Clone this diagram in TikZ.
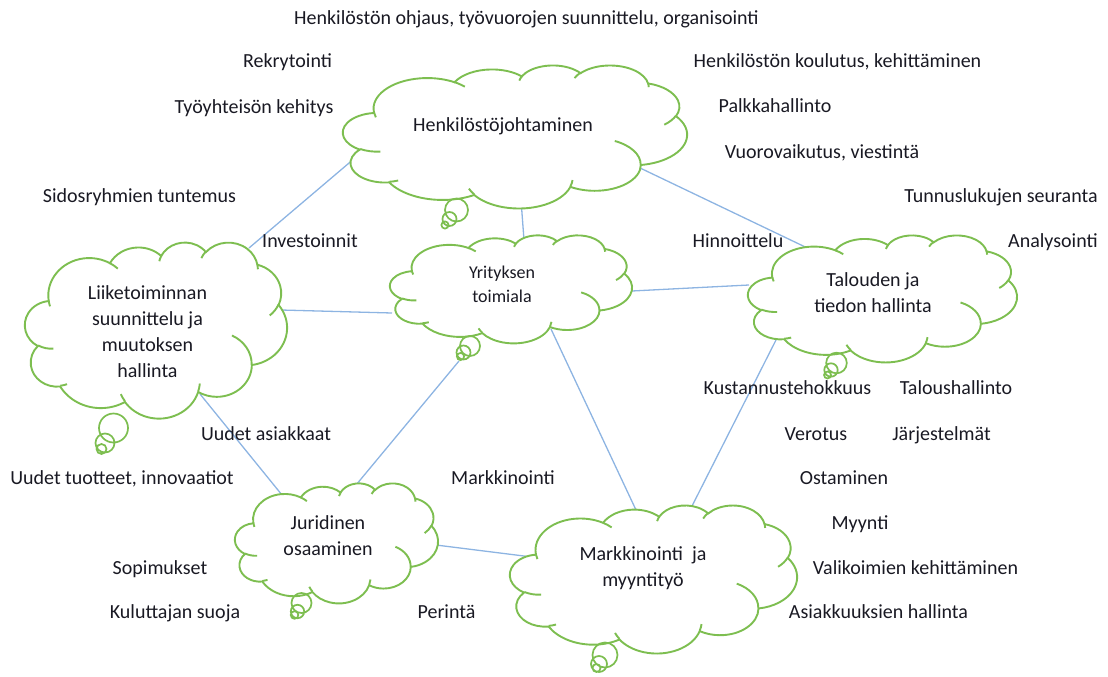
\documentclass[tikz,border=0pt]{standalone}
\usepackage{fontspec}
\setmainfont{Carlito}
\definecolor{cgreen}{RGB}{125,190,80}
\definecolor{lblue}{RGB}{141,180,226}
\definecolor{txt}{RGB}{25,25,35}
\newcommand\ooarc[4]{arc[x radius=#1,y radius=#2,start angle={atan2(sin(#3)/#2,cos(#3)/#1)},delta angle={mod(atan2(sin(#3+#4)/#2,cos(#3+#4)/#1)-atan2(sin(#3)/#2,cos(#3)/#1)+720,360)}]}
\newcommand\wordcloud[4]{%
 \begin{scope}[shift={(#1,#2)},xscale=#3/43.2,yscale=#4/43.2]
  \draw[cloudline,fill=white] (3.900,14.370)
   \ooarc{6.753}{9.190}{-190.4875}{123.7805}
   \ooarc{5.333}{7.267}{-144.1024}{89.9452}
   \ooarc{4.365}{5.945}{-145.8079}{99.7230}
   \ooarc{4.857}{6.595}{-130.9861}{117.2417}
   \ooarc{5.333}{7.273}{-78.7089}{109.0269}
   \ooarc{6.775}{9.220}{-46.2673}{130.2690}
   \ooarc{5.785}{7.867}{0.6250}{114.0333}
   \ooarc{6.752}{9.215}{22.4516}{115.1726}
   \ooarc{7.720}{10.543}{66.2426}{75.7110}
   \ooarc{4.360}{5.918}{-274.9421}{146.7356}
   \ooarc{4.345}{5.945}{-246.8285}{152.5189} -- cycle;
  \draw[cloudline]
   (4.693,26.177) \ooarc{4.345}{5.945}{86.7420}{26.4295}
   (6.928,34.899) \ooarc{4.360}{5.918}{73.6105}{11.4475}
   (16.478,39.090) \ooarc{6.752}{9.215}{137.6242}{14.0811}
   (28.827,34.751) \ooarc{6.752}{9.215}{6.4533}{15.9984}
   (34.129,22.954) \ooarc{5.785}{7.867}{-70.2924}{70.9174}
   (41.798,15.354) \ooarc{5.333}{7.273}{30.3180}{27.7515}
   (38.324,5.426) \ooarc{4.857}{6.595}{-13.7443}{14.8589}
   (29.078,3.952) \ooarc{4.857}{6.595}{-149.1815}{18.1954}
   (22.141,4.720) \ooarc{4.365}{5.945}{-163.4943}{17.6864}
   (14.000,5.192) \ooarc{6.753}{9.190}{-66.7070}{12.3194}
   (4.127,15.789) \ooarc{6.753}{9.190}{157.6544}{11.8582};
 \end{scope}}
\begin{document}
\begin{tikzpicture}[x=1pt,y=-1pt,
  cloudline/.style={draw=cgreen,line width=1.9pt},
  bubble/.style={draw=cgreen,line width=1.7pt},
  conn/.style={draw=lblue,line width=1.3pt},
  lbl/.style={font=\fontsize{20}{24}\selectfont,text=txt,anchor=base,inner sep=0pt},
  ctext/.style={font=\fontsize{20}{26}\selectfont,text=txt,align=center,inner sep=0pt},
  stext/.style={font=\fontsize{18}{23.7}\selectfont,text=txt,align=center,inner sep=0pt}]
\useasboundingbox (0,0) rectangle (1108,677);

% connector end points (on cloud edges)
\coordinate (h1) at (362,152);
\coordinate (l1) at (249,248);
\coordinate (h2) at (638,167);
\coordinate (ta1) at (822,255);
\coordinate (h3) at (521,200);
\coordinate (y1) at (524,240);
\coordinate (y2) at (632,291);
\coordinate (ta2) at (749,285);
\coordinate (l2) at (281,310);
\coordinate (y3) at (392,313);
\coordinate (l3) at (200,394);
\coordinate (j1) at (282,495);
\coordinate (j2) at (356,485);
\coordinate (yb) at (459,361);
\coordinate (y4) at (551,329);
\coordinate (m1) at (636,510);
\coordinate (ta3) at (776,340);
\coordinate (m2) at (690,510);
\coordinate (j3) at (436,545);
\coordinate (m3) at (532,557);

\draw[conn] (h1) -- (l1);
\draw[conn] (h2) -- (ta1);
\draw[conn] (h3) -- (y1);
\draw[conn] (y2) -- (ta2);
\draw[conn] (l2) -- (y3);
\draw[conn] (l3) -- (j1);
\draw[conn] (j2) -- (yb);
\draw[conn] (y4) -- (m1);
\draw[conn] (ta3) -- (m2);
\draw[conn] (j3) -- (m3);

% clouds
\wordcloud{343}{65}{344}{143}
\wordcloud{25}{242}{262}{176}
\wordcloud{390}{235}{242}{108}
\wordcloud{510}{505}{287}{148}
\wordcloud{748}{235}{269}{127}
\wordcloud{235}{483}{203}{120}

% thought bubbles
\draw[bubble] (456.5,210) circle[radius=11.5] (449.5,219) circle[radius=7] (445,225) circle[radius=3.6];
\draw[bubble] (113.5,428) circle[radius=14.5] (105,443) circle[radius=9.5] (101.5,449) circle[radius=5];
\draw[bubble] (470,346) circle[radius=10] (463.5,352.5) circle[radius=7] (460.5,356.5) circle[radius=3.6];
\draw[bubble] (605,655) circle[radius=12.5] (599,664) circle[radius=8] (596.5,668) circle[radius=4];
\draw[bubble] (836.5,363) circle[radius=10.3] (831,370) circle[radius=6.7] (827.5,375) circle[radius=3.5];
\draw[bubble] (301.5,603) circle[radius=10] (297.5,611.5) circle[radius=6.7] (294.5,615) circle[radius=3.8];

% cloud texts
\node[lbl] (henk) at (503,131.7) {Henkilöstöjohtaminen};
\node[ctext] (liike) at (147.5,332) {Liiketoiminnan\\suunnittelu ja\\muutoksen\\hallinta};
\node[stext] (yrit) at (502,284) {Yrityksen\\toimiala};
\node[ctext] (talo) at (873,293) {Talouden ja\\tiedon hallinta};
\node[ctext] (jur) at (328,536) {Juridinen\\osaaminen};
\node[ctext] (mark) at (643,568) {Markkinointi\ \ ja\\myyntityö};

% free labels
\node[lbl] (t1) at (526.5,25) {Henkilöstön ohjaus, työvuorojen suunnittelu, organisointi};
\node[lbl] (t2) at (287.5,67) {Rekrytointi};
\node[lbl] (t3) at (837.5,67) {Henkilöstön koulutus, kehittäminen};
\node[lbl] (t4) at (254,113) {Työyhteisön kehitys};
\node[lbl] (t5) at (775,112) {Palkkahallinto};
\node[lbl] (t6) at (822,158) {Vuorovaikutus, viestintä};
\node[lbl] (t7) at (139.5,202) {Sidosryhmien tuntemus};
\node[lbl] (t8) at (1001,202) {Tunnuslukujen seuranta};
\node[lbl] (t9) at (310,247) {Investoinnit};
\node[lbl] (t10) at (738,247) {Hinnoittelu};
\node[lbl] (t11) at (1053,247) {Analysointi};
\node[lbl] (t12) at (787.5,394) {Kustannustehokkuus};
\node[lbl] (t13) at (956,394) {Taloushallinto};
\node[lbl] (t14) at (266,440) {Uudet asiakkaat};
\node[lbl] (t15) at (816,440) {Verotus};
\node[lbl] (t16) at (941.5,440) {Järjestelmät};
\node[lbl] (t17) at (122,484) {Uudet tuotteet, innovaatiot};
\node[lbl] (t18) at (503,484) {Markkinointi};
\node[lbl] (t19) at (844,484) {Ostaminen};
\node[lbl] (t20) at (860,529) {Myynti};
\node[lbl] (t21) at (160,574) {Sopimukset};
\node[lbl] (t22) at (915.5,574) {Valikoimien kehittäminen};
\node[lbl] (t23) at (175,618) {Kuluttajan suoja};
\node[lbl] (t24) at (446.5,618) {Perintä};
\node[lbl] (t25) at (878.5,618) {Asiakkuuksien hallinta};
\end{tikzpicture}
\end{document}
